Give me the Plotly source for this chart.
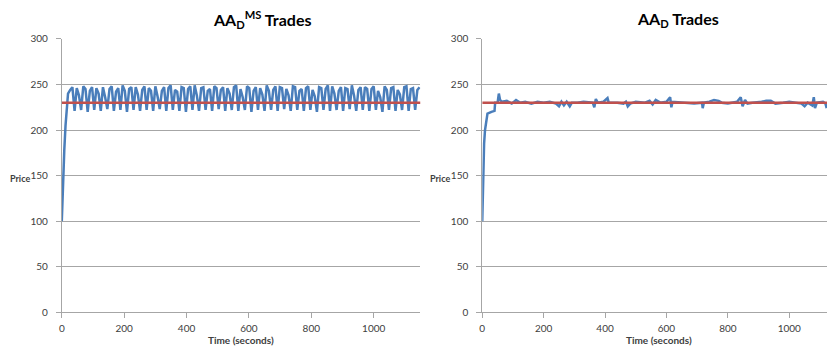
import plotly.graph_objects as go

# ---- AA_D^MS market: transaction prices over time ----
ms_time = [0, 4, 8, 12, 16, 20,
           27, 34, 41, 48, 55, 62, 69, 76, 83, 90,
           97, 104, 111, 118, 125, 132, 139, 146, 153, 160,
           167, 174, 181, 188, 195, 202, 209, 216, 223, 230,
           237, 244, 251, 258, 265, 272, 279, 286, 293, 300,
           307, 314, 321, 328, 335, 342, 349, 356, 363, 370,
           377, 384, 391, 398, 405, 412, 419, 426, 433, 440,
           447, 454, 461, 468, 475, 482, 489, 496, 503, 510,
           517, 524, 531, 538, 545, 552, 559, 566, 573, 580,
           587, 594, 601, 608, 615, 622, 629, 636, 643, 650,
           657, 664, 671, 678, 685, 692, 699, 706, 713, 720,
           727, 734, 741, 748, 755, 762, 769, 776, 783, 790,
           797, 804, 811, 818, 825, 832, 839, 846, 853, 860,
           867, 874, 881, 888, 895, 902, 909, 916, 923, 930,
           937, 944, 951, 958, 965, 972, 979, 986, 993, 1000,
           1007, 1014, 1021, 1028, 1035, 1042, 1049, 1056, 1063, 1070,
           1077, 1084, 1091, 1098, 1105, 1112, 1119, 1126, 1133, 1140,
           1147]
ms_price = [100, 150, 178, 205, 228, 240,
            244, 247, 221, 246, 238, 222, 248, 245, 220,
            243, 247, 222, 246, 240, 221, 247, 236, 223,
            245, 248, 221, 242, 246, 222, 249, 243, 220,
            245, 247, 222, 247, 239, 221, 244, 248, 222,
            246, 243, 221, 248, 237, 223, 243, 247, 221,
            246, 249, 222, 244, 242, 221, 247, 246, 220,
            245, 248, 222, 249, 238, 221, 246, 247, 222,
            243, 245, 221, 248, 246, 223, 244, 247, 221,
            246, 240, 222, 247, 249, 221, 245, 236, 222,
            248, 246, 220, 243, 247, 222, 246, 239, 221,
            249, 243, 222, 244, 248, 221, 247, 246, 223,
            245, 238, 221, 248, 247, 222, 243, 245, 221,
            246, 248, 222, 244, 237, 220, 247, 246, 222,
            245, 249, 221, 248, 240, 222, 243, 247, 221,
            246, 245, 223, 249, 238, 221, 244, 247, 222,
            247, 245, 221, 245, 248, 222, 243, 236, 220,
            248, 244, 222, 246, 247, 221, 244, 239, 222,
            247, 248, 221, 245, 246, 222,
            244, 247]

# ---- AA_D market: transaction prices over time ----
d_time = [0, 3, 6, 9, 13, 17, 30, 40, 42, 50, 54, 58, 64, 80, 96, 110,
          124, 140, 160, 180, 200, 220, 240, 250, 258, 266, 275, 285, 292,
          310, 330, 360, 365, 370, 376, 395, 408, 412, 440, 460, 468, 474,
          482, 500, 530, 545, 555, 565, 580, 600, 612, 616, 620, 650, 690,
          716, 718, 722, 740, 755, 770, 780, 800, 830, 842, 848, 856, 864,
          880, 910, 925, 940, 955, 980, 1000, 1040, 1050, 1060, 1075, 1080,
          1084, 1090, 1110, 1118, 1122]
d_price = [100, 165, 185, 200, 212, 218, 220, 221, 230, 230, 240, 233, 231,
           232, 229, 233, 230, 231, 229, 231, 230, 231, 229, 226, 231, 227,
           231, 226, 230, 230, 231, 230, 225, 234, 230, 231, 235, 230, 230,
           229, 231, 226, 229, 231, 230, 232, 228, 233, 230, 231, 236, 225,
           231, 230, 229, 230, 224, 230, 231, 233, 232, 230, 229, 231, 236,
           226, 233, 229, 230, 231, 232, 232, 229, 230, 231, 229, 226, 230,
           227, 236, 224, 230, 231, 229, 224]

# Competitive equilibrium price (reference line)
equilibrium = 230
ms_span = [0, 1150]
d_span = [0, 1123]

BLUE = "#4A7EBB"
RED = "#C0504D"
GRID = "#A6A6A6"
TXT = "#404040"
FONT = "Lato"

fig = go.Figure()
fig.add_trace(go.Scatter(x=ms_time, y=ms_price, mode="lines",
                         line=dict(color=BLUE, width=2.5), xaxis="x", yaxis="y"))
fig.add_trace(go.Scatter(x=ms_span, y=[equilibrium] * 2, mode="lines",
                         line=dict(color=RED, width=2.5), xaxis="x", yaxis="y"))
fig.add_trace(go.Scatter(x=d_time, y=d_price, mode="lines",
                         line=dict(color=BLUE, width=2.5), xaxis="x2", yaxis="y2"))
fig.add_trace(go.Scatter(x=d_span, y=[equilibrium] * 2, mode="lines",
                         line=dict(color=RED, width=2.5), xaxis="x2", yaxis="y2"))

W, H = 827, 358
y_dom = [1 - 317 / H, 1 - 34 / H]

xcommon = dict(showgrid=False, showline=True, linecolor=GRID, linewidth=1,
               ticks="outside", ticklen=5, tickcolor=GRID, dtick=200, tick0=0,
               zeroline=False, ticklabelstandoff=2,
               tickfont=dict(family=FONT, size=10, color=TXT))
ycommon = dict(range=[0, 300], dtick=50, showgrid=True, gridcolor=GRID, gridwidth=1,
               showline=True, linecolor=GRID, linewidth=1, ticks="outside",
               ticklen=5, tickcolor=GRID, zeroline=False, ticklabelstandoff=6,
               tickfont=dict(family=FONT, size=10, color=TXT))

fig.update_layout(
    width=W, height=H, autosize=False,
    margin=dict(l=0, r=0, t=0, b=0),
    paper_bgcolor="white", plot_bgcolor="white",
    showlegend=False,
    xaxis=dict(domain=[59 / W, 419 / W], range=ms_span, anchor="y", **xcommon),
    yaxis=dict(domain=y_dom, anchor="x", **ycommon),
    xaxis2=dict(domain=[481 / W, 1.0], range=d_span, anchor="y2", **xcommon),
    yaxis2=dict(domain=y_dom, anchor="x2", **ycommon),
)

ann = []
ann.append(dict(text="<b>AA<sub>D</sub><sup>MS</sup> Trades</b>", x=260 / W, y=1 - 14 / H,
                xref="paper", yref="paper", showarrow=False, xanchor="center", yanchor="middle",
                font=dict(family=FONT, size=16, color="black")))
ann.append(dict(text="<b>AA<sub>D</sub> Trades</b>", x=677 / W, y=1 - 14 / H,
                xref="paper", yref="paper", showarrow=False, xanchor="center", yanchor="middle",
                font=dict(family=FONT, size=16, color="black")))
for cx in (239, 658):
    ann.append(dict(text="<b>Time (seconds)</b>", x=cx / W, y=1 - 346 / H,
                    xref="paper", yref="paper", showarrow=False, xanchor="center",
                    yanchor="middle", font=dict(family=FONT, size=10, color=TXT)))
for rx in (29, 451):
    ann.append(dict(text="<b>Price</b>", x=rx / W, y=1 - 178 / H,
                    xref="paper", yref="paper", showarrow=False, xanchor="right",
                    yanchor="middle", font=dict(family=FONT, size=9, color=TXT)))
fig.update_layout(annotations=ann)

fig.write_html("out.html")
